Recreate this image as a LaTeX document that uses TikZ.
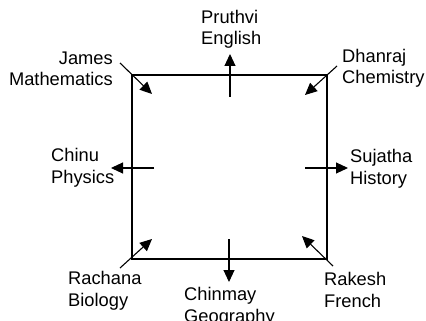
\documentclass[tikz,border=0pt]{standalone}
\usepackage{fontspec}
\setmainfont{Liberation Sans}
\usetikzlibrary{arrows.meta}

\tikzset{
    person/.style={inner sep=0pt, font=\fontsize{18.3}{21.5}\selectfont},
    facing/.style={-{Triangle[length=12pt,width=11pt]}, line width=1.1pt},
}

\begin{document}
\begin{tikzpicture}[x=1pt,y=-1pt]
    \useasboundingbox (0,0) rectangle (426,321);
    \node[draw, line width=1.4pt, minimum width=195pt, minimum height=184pt, inner sep=0pt] (table) at (229.5,167) {};

    % base anchor sits on the second line
    \node[person, align=left, anchor=base west] (pruthvi) at (201,45) {Pruthvi\\English};
    \node[person, align=right, anchor=base east] (james) at (113,86) {James\\Mathematics};
    \node[person, align=left, anchor=base west] (dhanraj) at (342,84) {Dhanraj\\Chemistry};
    \node[person, align=left, anchor=base west] (chinu) at (51,183) {Chinu\\Physics};
    \node[person, align=left, anchor=base west] (sujatha) at (350,184) {Sujatha\\History};
    \node[person, align=left, anchor=base west] (rachana) at (68,306) {Rachana\\Biology};
    \node[person, align=left, anchor=base west] (chinmay) at (184,322) {Chinmay\\Geography};
    \node[person, align=left, anchor=base west] (rakesh) at (324,307) {Rakesh\\French};

    \coordinate (pruthviA) at (230,97);  \coordinate (pruthviB) at (230,54);
    \coordinate (jamesA) at (120,63);    \coordinate (jamesB) at (152,94);
    \coordinate (dhanrajA) at (337,66);  \coordinate (dhanrajB) at (305,95);
    \coordinate (chinuA) at (154,168);   \coordinate (chinuB) at (111,168);
    \coordinate (sujathaA) at (305,168); \coordinate (sujathaB) at (348,168);
    \coordinate (rachanaA) at (120,268); \coordinate (rachanaB) at (152,239);
    \coordinate (chinmayA) at (229,239); \coordinate (chinmayB) at (229,282);
    \coordinate (rakeshA) at (333,266);  \coordinate (rakeshB) at (302,236);

    \draw[facing] (pruthviA) -- (pruthviB);
    \draw[facing] (jamesA) -- (jamesB);
    \draw[facing] (dhanrajA) -- (dhanrajB);
    \draw[facing] (chinuA) -- (chinuB);
    \draw[facing] (sujathaA) -- (sujathaB);
    \draw[facing] (rachanaA) -- (rachanaB);
    \draw[facing] (chinmayA) -- (chinmayB);
    \draw[facing] (rakeshA) -- (rakeshB);
\end{tikzpicture}
\end{document}
